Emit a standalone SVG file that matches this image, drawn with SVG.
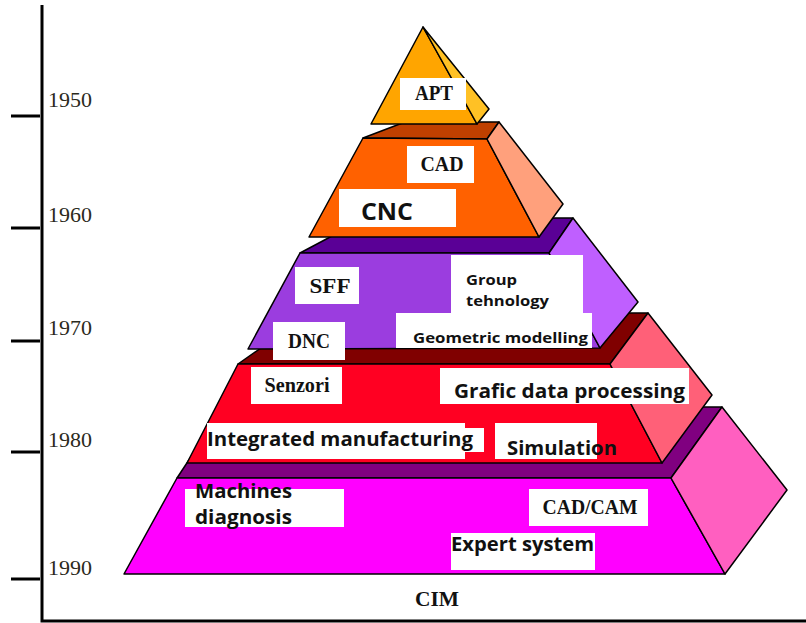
<svg xmlns="http://www.w3.org/2000/svg" width="806" height="623" viewBox="0 0 806 623">
<style>
.e{stroke:#000;stroke-width:1.5;stroke-linejoin:round}
.box{fill:#fff}
.tb{font-family:"Liberation Serif","Times New Roman",serif;font-weight:bold;font-size:20px;fill:#111;text-anchor:middle}
.ts{font-family:"Open Sans","Noto Sans",sans-serif;font-weight:bold;fill:#111}
.yr{font-family:"Liberation Serif","Times New Roman",serif;font-size:22px;fill:#2b2a1c}
.ax{stroke:#000;stroke-width:3;fill:none}
</style>
<rect width="806" height="623" fill="#fff"/>
<g id="axis">
<path class="ax" d="M42 5V621H806"/>
<path class="ax" d="M11 116H40M11 228H40M11 341H40M11 452H40M11 579H40"/>
<text class="yr" x="48" y="107">1950</text>
<text class="yr" x="48" y="222">1960</text>
<text class="yr" x="48" y="335">1970</text>
<text class="yr" x="48" y="447">1980</text>
<text class="yr" x="48" y="575">1990</text>
</g>
<g id="layer-cim">
<polygon class="e" fill="#800080" points="177,478 224,407 722,407 671,478"/>
<polygon class="e" fill="#ff00ff" points="177,478 671,478 725,574 124,574"/>
<polygon class="e" fill="#ff5fc0" points="671,478 722,407 787,490 725,574"/>
</g>
<g id="layer-1980">
<polygon class="e" fill="#800000" points="238,364 311,313 648,313 610,364"/>
<polygon class="e" fill="#ff0022" points="238,364 610,364 662,463 187,463"/>
<polygon class="e" fill="#ff6078" points="610,364 648,313 712,395 662,463"/>
</g>
<g id="layer-1970">
<polygon class="e" fill="#5a0096" points="300,253 366,218 573,218 549,253"/>
<polygon class="e" fill="#9b3ddf" points="300,253 549,253 600,348 248,349"/>
<polygon class="e" fill="#bf5fff" points="549,253 573,218 638,302 600,348"/>
</g>
<g id="layer-1960">
<polygon class="e" fill="#c04000" points="363,138 405,122 499,122 487,139"/>
<polygon class="e" fill="#ff6100" points="363,138 487,139 539,237 309,237"/>
<polygon class="e" fill="#ffa07c" points="487,139 499,122 563,204 539,237"/>
</g>
<g id="layer-1950">
<polygon class="e" fill="#ffa500" points="423,27 477,124 371,124"/>
<polygon class="e" fill="#ffc125" points="423,27 489,109 477,124"/>
</g>
<g id="label-apt"><rect class="box" x="400" y="78" width="66" height="32"/><text class="tb" x="434" y="100" textLength="38" lengthAdjust="spacingAndGlyphs">APT</text></g>
<g id="label-cad"><rect class="box" x="407" y="146" width="67" height="37"/><text class="tb" x="442" y="171" textLength="43" lengthAdjust="spacingAndGlyphs">CAD</text></g>
<g id="label-cnc"><rect class="box" x="339" y="189" width="117" height="38"/><text class="ts" x="361" y="220" font-size="23" textLength="52" lengthAdjust="spacingAndGlyphs">CNC</text></g>
<g id="label-sff"><rect class="box" x="295" y="267" width="64" height="37"/><text class="tb" x="330" y="293" textLength="41" lengthAdjust="spacingAndGlyphs">SFF</text></g>
<g id="label-group"><rect class="box" x="451" y="255" width="132" height="60"/><text class="ts" font-size="15"><tspan x="466" y="285" textLength="51" lengthAdjust="spacingAndGlyphs">Group</tspan><tspan x="466" y="306" textLength="83" lengthAdjust="spacingAndGlyphs">tehnology</tspan></text></g>
<g id="label-geom"><rect class="box" x="396" y="313" width="196" height="35"/><text class="ts" x="413" y="343" font-size="15" textLength="175" lengthAdjust="spacingAndGlyphs">Geometric modelling</text></g>
<g id="label-dnc"><rect class="box" x="273" y="322" width="72" height="38"/><text class="tb" x="309" y="348" textLength="42" lengthAdjust="spacingAndGlyphs">DNC</text></g>
<g id="label-senzori"><rect class="box" x="251" y="367" width="91" height="37"/><text class="tb" x="297" y="392" textLength="65" lengthAdjust="spacingAndGlyphs">Senzori</text></g>
<g id="label-grafic"><rect class="box" x="440" y="368" width="249" height="36"/><text class="ts" x="454" y="398" font-size="19" textLength="231" lengthAdjust="spacingAndGlyphs">Grafic data processing</text></g>
<g id="label-integrated"><rect class="box" x="207" y="423" width="258" height="36"/><rect class="box" x="465" y="428" width="19" height="24"/><text class="ts" x="207" y="446" font-size="19" textLength="266" lengthAdjust="spacingAndGlyphs">Integrated manufacturing</text></g>
<g id="label-simulation"><rect class="box" x="495" y="423" width="102" height="36"/><text class="ts" x="507" y="455" font-size="19" textLength="110" lengthAdjust="spacingAndGlyphs">Simulation</text></g>
<g id="label-machines"><rect class="box" x="185" y="489" width="159" height="38"/><text class="ts" font-size="19"><tspan x="195" y="498" textLength="97" lengthAdjust="spacingAndGlyphs">Machines</tspan><tspan x="195" y="524" textLength="97" lengthAdjust="spacingAndGlyphs">diagnosis</tspan></text></g>
<g id="label-cadcam"><rect class="box" x="529" y="489" width="119" height="37"/><text class="tb" x="590" y="514" textLength="95" lengthAdjust="spacingAndGlyphs">CAD/CAM</text></g>
<g id="label-expert"><rect class="box" x="451" y="533" width="144" height="37"/><text class="ts" x="451" y="551" font-size="19" textLength="143" lengthAdjust="spacingAndGlyphs">Expert system</text></g>
<g id="label-cim"><text class="tb" x="437" y="606" font-size="21" textLength="44" lengthAdjust="spacingAndGlyphs">CIM</text></g>
</svg>
